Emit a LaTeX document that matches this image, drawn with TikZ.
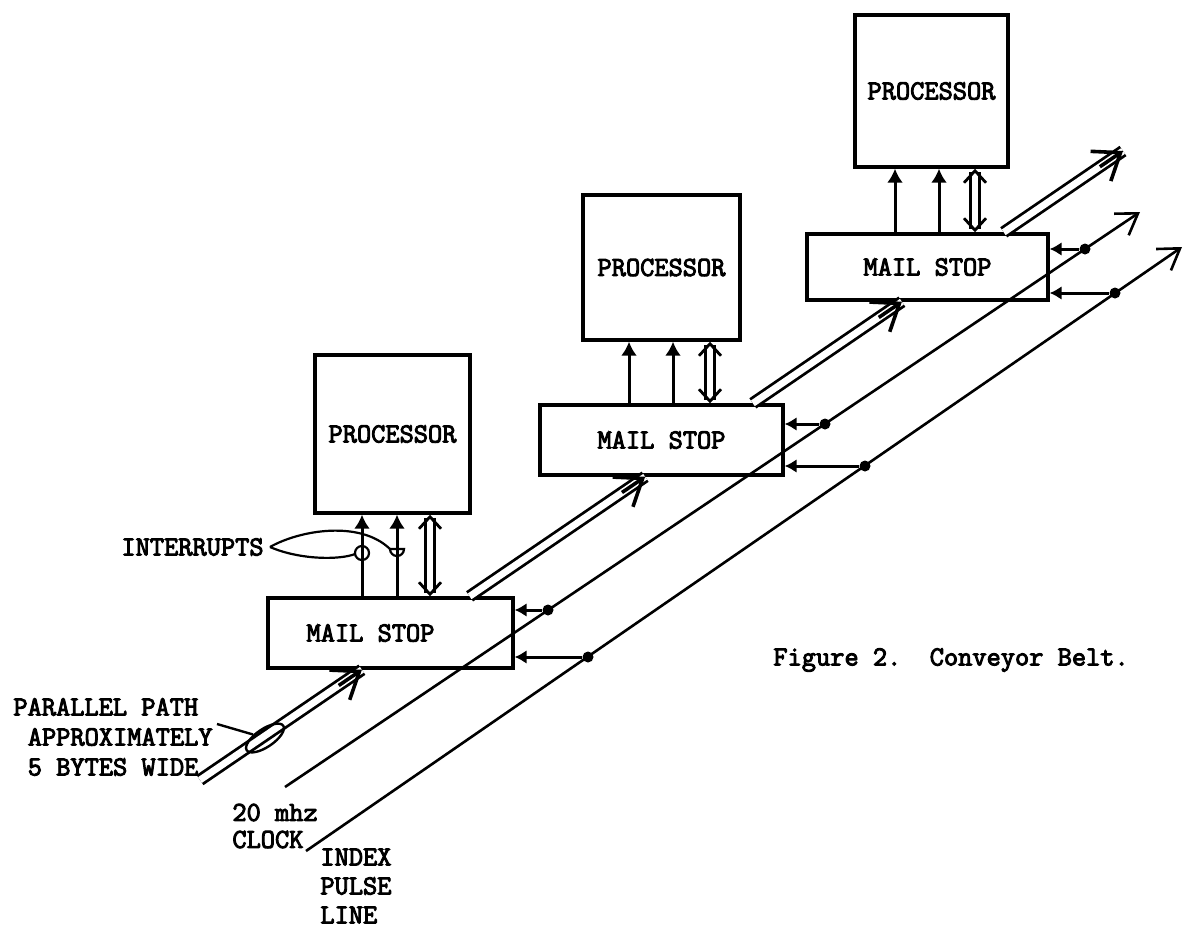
\documentclass[tikz,border=0pt]{standalone}
\usepackage{fontspec}
\setmonofont[FakeBold=3.5]{Latin Modern Mono}
\usetikzlibrary{shapes, calc, arrows.meta}

\tikzset{
	box/.style={draw, line width=1.7pt, inner sep=0pt, font=\ttfamily\fontsize{13.8}{15}\selectfont},
	lbl/.style={inner sep=0pt, font=\ttfamily\fontsize{13.8}{15}\selectfont},
	sig/.style={line width=1.5pt, -{Latex[length=7pt,width=8pt]}},
	bus/.style={double, line width=1.4pt, double distance=3.2pt, {Straight Barb[length=6pt,width=11pt]}-{Straight Barb[length=6pt,width=11pt]}},
	belt/.style={double, line width=1.4pt, double distance=3.4pt},
	belthead/.style={line width=1.8pt, -{Straight Barb[length=12pt,width=18pt]}},
	wire/.style={line width=1.3pt, -{Straight Barb[length=10pt,width=13pt]}},
	tap/.style={line width=1.5pt, -{Latex[length=6pt,width=7pt]}},
	tapdot/.style={circle, fill, inner sep=0pt, minimum size=5.5pt},
}

\begin{document}
\begin{tikzpicture}[x=0.5pt, y=-0.5pt]
	\useasboundingbox (0,0) rectangle (1190,932);

	\node[box, minimum width=77.5pt, minimum height=79pt] (proc1) at (392.5,434) {PROCESSOR};
	\node[box, minimum width=122.5pt, minimum height=35pt] (ms1) at (390.5,633) {MAIL STOP\hspace*{20pt}};
	\node[box, minimum width=78.5pt, minimum height=72.5pt] (proc2) at (661.5,267.5) {PROCESSOR};
	\node[box, minimum width=121.5pt, minimum height=35pt] (ms2) at (661.5,440) {MAIL STOP};
	\node[box, minimum width=76.5pt, minimum height=76pt] (proc3) at (931.5,91) {\raisebox{-7.5pt}{PROCESSOR}};
	\node[box, minimum width=120.5pt, minimum height=33pt] (ms3) at (927.5,267) {MAIL STOP};

	\draw[sig] (ms1.north -| 362,0) -- (proc1.south -| 362,0);
	\draw[sig] (ms1.north -| 397,0) -- (proc1.south -| 397,0);
	\draw[bus] (ms1.north -| 430,0) -- (proc1.south -| 430,0);
	\draw[sig] (ms2.north -| 629,0) -- (proc2.south -| 629,0);
	\draw[sig] (ms2.north -| 673,0) -- (proc2.south -| 673,0);
	\draw[bus] (ms2.north -| 710,0) -- (proc2.south -| 710,0);
	\draw[sig] (ms3.north -| 895,0) -- (proc3.south -| 895,0);
	\draw[sig] (ms3.north -| 939,0) -- (proc3.south -| 939,0);
	\draw[bus] (ms3.north -| 975,0) -- (proc3.south -| 975,0);

	% conveyor belt
	\coordinate (bt0) at (200,780);
	\coordinate (bt1) at (1123,151);
	\coordinate (e1) at (intersection of bt0--bt1 and ms1.south west--ms1.south east);
	\coordinate (s2) at (intersection of bt0--bt1 and ms1.north west--ms1.north east);
	\coordinate (e2) at (intersection of bt0--bt1 and ms2.south west--ms2.south east);
	\coordinate (s3) at (intersection of bt0--bt1 and ms2.north west--ms2.north east);
	\coordinate (e3) at (intersection of bt0--bt1 and ms3.south west--ms3.south east);
	\coordinate (s4) at (intersection of bt0--bt1 and ms3.north west--ms3.north east);
	\draw[belt] (bt0) -- (e1);
	\draw[belthead] ($(e1)!14pt!(bt0)$) -- (e1);
	\draw[belt] (s2) -- (e2);
	\draw[belthead] ($(e2)!14pt!(s2)$) -- (e2);
	\draw[belt] (s3) -- (e3);
	\draw[belthead] ($(e3)!14pt!(s3)$) -- (e3);
	\draw[belt] (s4) -- (bt1);
	\draw[belthead] ($(bt1)!14pt!(s4)$) -- (bt1);

	% clock and index lines
	\coordinate (ck0) at (285,787);
	\coordinate (ck1) at (1140,212);
	\draw[wire] (ck0) -- (ck1);
	\coordinate (ix0) at (306,851);
	\coordinate (ix1) at (1182,247);
	\draw[wire] (ix0) -- (ix1);

	\node[tapdot] (k1) at (548,610) {};
	\node[tapdot] (k2) at (825,424) {};
	\node[tapdot] (k3) at (1085,249) {};
	\node[tapdot] (j1) at (588,657) {};
	\node[tapdot] (j2) at (865,466) {};
	\node[tapdot] (j3) at (1115,293) {};
	\draw[tap] (k1) -- (k1 -| ms1.east);
	\draw[tap] (j1) -- (j1 -| ms1.east);
	\draw[tap] (k2) -- (k2 -| ms2.east);
	\draw[tap] (j2) -- (j2 -| ms2.east);
	\draw[tap] (k3) -- (k3 -| ms3.east);
	\draw[tap] (j3) -- (j3 -| ms3.east);

	% labels
	\node[lbl, anchor=east, inner xsep=3pt] (intr) at (270,547) {INTERRUPTS};
	\draw[line width=1.1pt] (intr.east) .. controls (300,530) and (360,520) .. (390,549);
	\draw[line width=1.1pt] (intr.east) .. controls (300,560) and (340,560) .. (355,554);
	\draw[line width=1.1pt] (362,553) circle[radius=3.5pt];
	\draw[line width=1.1pt] (390,549) arc[start angle=180, end angle=360, radius=3.5pt] -- cycle;

	\node[draw, ellipse, line width=1.2pt, rotate=34, minimum width=22pt, minimum height=9pt, inner sep=0pt] (pp) at (265,738) {};
	\node[lbl, anchor=west, align=left] (ppl) at (13,737) {PARALLEL PATH\\\hspace*{7.2pt}APPROXIMATELY\\\hspace*{7.2pt}5 BYTES WIDE};
	\coordinate (ppt) at (217,724);
	\draw[line width=1.2pt] (ppt) -- (pp);

	\node[lbl, anchor=west, align=left, font=\ttfamily\fontsize{13.8}{13.5}\selectfont] (clk) at (232,826) {20 mhz\\CLOCK};
	\node[lbl, anchor=west, align=left, font=\ttfamily\fontsize{13.8}{14.5}\selectfont] (idx) at (320,886) {INDEX\\PULSE\\LINE};
	\node[lbl, anchor=west] (cap) at (773,660) {Figure 2.\ \ Conveyor Belt.};
\end{tikzpicture}
\end{document}
